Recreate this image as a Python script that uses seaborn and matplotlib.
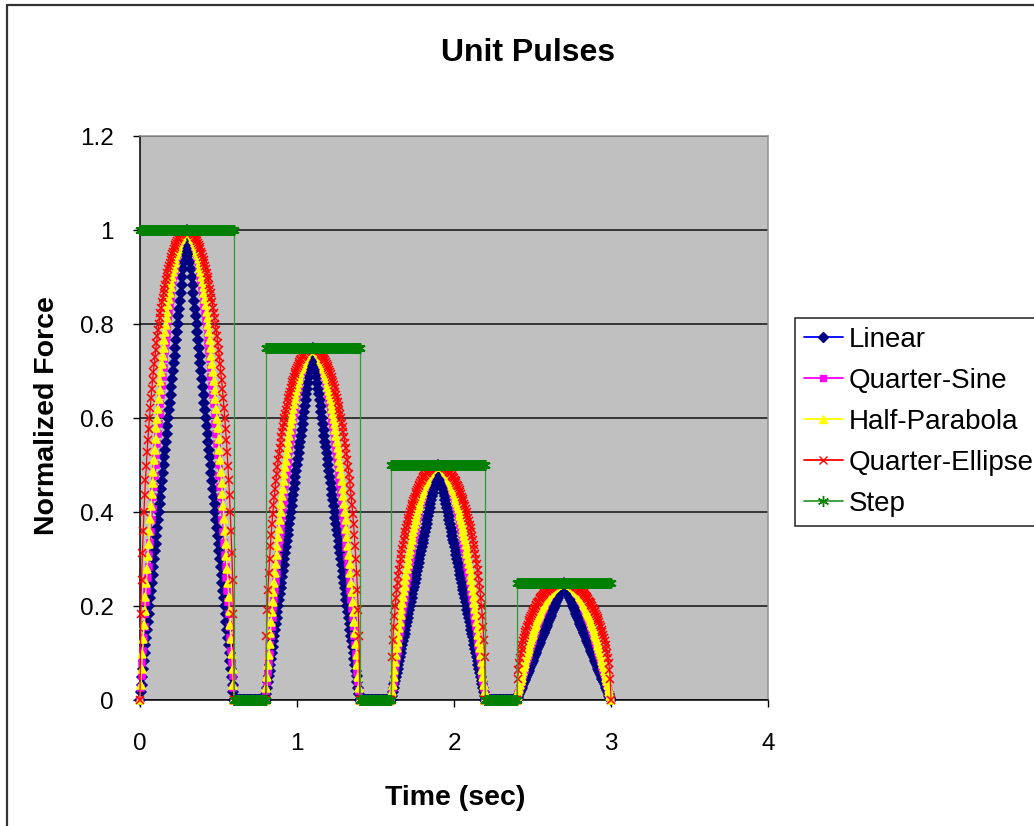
import matplotlib.pyplot as plt
from matplotlib.lines import Line2D
import numpy as np
import pandas as pd
import seaborn as sns

# pulse train: four pulses, each 0.6 s long, 0.2 s apart
pulse_starts = [0.0, 0.8, 1.6, 2.4]
pulse_peaks = [1.0, 0.75, 0.5, 0.25]
pulse_width = 0.6
pulse_gap = 0.2
sample_step = 0.005

# normalised rising half of each pulse shape (0 -> peak, 61 samples)
linear_rise = [0.000, 0.017, 0.033, 0.050, 0.067, 0.083, 0.100, 0.117, 0.133, 0.150,
               0.167, 0.183, 0.200, 0.217, 0.233, 0.250, 0.267, 0.283, 0.300, 0.317,
               0.333, 0.350, 0.367, 0.383, 0.400, 0.417, 0.433, 0.450, 0.467, 0.483,
               0.500, 0.517, 0.533, 0.550, 0.567, 0.583, 0.600, 0.617, 0.633, 0.650,
               0.667, 0.683, 0.700, 0.717, 0.733, 0.750, 0.767, 0.783, 0.800, 0.817,
               0.833, 0.850, 0.867, 0.883, 0.900, 0.917, 0.933, 0.950, 0.967, 0.983,
               1.000]
sine_rise = [0.000, 0.026, 0.052, 0.078, 0.105, 0.131, 0.156, 0.182, 0.208, 0.233,
             0.259, 0.284, 0.309, 0.334, 0.358, 0.383, 0.407, 0.431, 0.454, 0.477,
             0.500, 0.522, 0.545, 0.566, 0.588, 0.609, 0.629, 0.649, 0.669, 0.688,
             0.707, 0.725, 0.743, 0.760, 0.777, 0.793, 0.809, 0.824, 0.839, 0.853,
             0.866, 0.879, 0.891, 0.903, 0.914, 0.924, 0.934, 0.943, 0.951, 0.959,
             0.966, 0.972, 0.978, 0.983, 0.988, 0.991, 0.995, 0.997, 0.999, 1.000,
             1.000]
parabola_rise = [0.000, 0.033, 0.066, 0.098, 0.129, 0.160, 0.190, 0.220, 0.249, 0.278,
                 0.306, 0.333, 0.360, 0.386, 0.412, 0.438, 0.462, 0.486, 0.510, 0.533,
                 0.556, 0.578, 0.599, 0.620, 0.640, 0.660, 0.679, 0.698, 0.716, 0.733,
                 0.750, 0.766, 0.782, 0.798, 0.812, 0.826, 0.840, 0.853, 0.866, 0.878,
                 0.889, 0.900, 0.910, 0.920, 0.929, 0.938, 0.946, 0.953, 0.960, 0.966,
                 0.972, 0.978, 0.982, 0.986, 0.990, 0.993, 0.996, 0.998, 0.999, 1.000,
                 1.000]
ellipse_rise = [0.000, 0.182, 0.256, 0.312, 0.359, 0.400, 0.436, 0.469, 0.499, 0.527,
                0.553, 0.577, 0.600, 0.622, 0.642, 0.661, 0.680, 0.697, 0.714, 0.730,
                0.745, 0.760, 0.774, 0.787, 0.800, 0.812, 0.824, 0.835, 0.846, 0.856,
                0.866, 0.875, 0.884, 0.893, 0.901, 0.909, 0.917, 0.924, 0.930, 0.937,
                0.943, 0.949, 0.954, 0.959, 0.964, 0.968, 0.972, 0.976, 0.980, 0.983,
                0.986, 0.989, 0.991, 0.993, 0.995, 0.997, 0.998, 0.999, 0.999, 1.000,
                1.000]
step_rise = [1.0] * 61

series_names = ['Linear', 'Quarter-Sine', 'Half-Parabola', 'Quarter-Ellipse', 'Step']
series_rises = [linear_rise, sine_rise, parabola_rise, ellipse_rise, step_rise]


def build_series(rise):
    shape = np.array(rise + rise[-2::-1])
    ts, ys = [], []
    n_gap = int(round(pulse_gap / sample_step)) + 1
    for i, (t0, peak) in enumerate(zip(pulse_starts, pulse_peaks)):
        ts += list(t0 + sample_step * np.arange(len(shape)))
        ys += list(peak * shape)
        if i < len(pulse_starts) - 1:
            ts += list(t0 + pulse_width + sample_step * np.arange(n_gap))
            ys += [0.0] * n_gap
    return pd.DataFrame({'t': ts, 'force': ys})


# line colour, marker colour, marker, marker size
styles = {
    'Linear': ('#0000FF', '#000080', 'D', 4.6),
    'Quarter-Sine': ('#FF00FF', '#FF00FF', 's', 4.3),
    'Half-Parabola': ('#FFFF00', '#FFFF00', '^', 5.8),
    'Quarter-Ellipse': ('#FF0000', '#FF0000', 'x', 5.8),
    'Step': ('#339933', '#008000', (6, 2, 0), 7.5),
}

sns.set_style('white')
plt.rcParams['font.family'] = ['Liberation Sans', 'DejaVu Sans']
plt.rcParams['text.color'] = 'black'
plt.rcParams['axes.labelcolor'] = 'black'
plt.rcParams['xtick.color'] = 'black'
plt.rcParams['ytick.color'] = 'black'

fig = plt.figure(figsize=(10.34, 8.26), dpi=100)
ax = fig.add_axes([0.1354, 0.1525, 0.6074, 0.6828])
ax.set_facecolor('#C0C0C0')

for name, rise in zip(series_names, series_rises):
    df = build_series(rise)
    lc, mc, mk, ms = styles[name]
    sns.lineplot(data=df, x='t', y='force', sort=False, estimator=None, ax=ax,
                 color=lc, lw=0.9, marker=mk, markersize=ms,
                 markerfacecolor=mc, markeredgecolor=mc, markeredgewidth=1.1,
                 clip_on=False, zorder=3)

ax.set_xlim(0, 4)
ax.set_ylim(0, 1.2)
ax.set_xticks([0, 1, 2, 3, 4])
ax.set_xticklabels(['0', '1', '2', '3', '4'])
ax.set_yticks([0, 0.2, 0.4, 0.6, 0.8, 1.0, 1.2])
ax.set_yticklabels(['0', '0.2', '0.4', '0.6', '0.8', '1', '1.2'])
ax.set_xlabel('')
ax.set_ylabel('')
ax.tick_params(axis='both', direction='out', length=5, width=1, colors='black',
               labelsize=17.5, bottom=True, left=True)
ax.tick_params(axis='x', pad=19)
ax.tick_params(axis='y', pad=14)
ax.grid(True, axis='y', color='#111111', lw=1.1)
ax.grid(False, axis='x')
ax.set_axisbelow(True)
for side in ['left', 'bottom']:
    ax.spines[side].set_color('black')
    ax.spines[side].set_linewidth(1.1)
for side in ['top', 'right']:
    ax.spines[side].set_color('#909090')
    ax.spines[side].set_linewidth(1.1)

fig.text(0.511, 0.9355, 'Unit Pulses', ha='center', va='center',
         fontsize=23, fontweight='bold')
fig.text(0.0455, 0.4975, 'Normalized Force', ha='center', va='center',
         rotation=90, fontsize=20.5, fontweight='bold')
fig.text(0.44, 0.0335, 'Time (sec)', ha='center', va='center',
         fontsize=20.5, fontweight='bold')

handles = []
for name in series_names:
    lc, mc, mk, ms = styles[name]
    handles.append(Line2D([], [], color=lc, lw=1.3, marker=mk, markersize=ms + 0.5,
                          markerfacecolor=mc, markeredgecolor=mc, markeredgewidth=1.0))
leg = fig.legend(handles, series_names, loc='upper left',
                 bbox_to_anchor=(0.769, 0.615), fontsize=20, frameon=True,
                 fancybox=False, edgecolor='#222222', framealpha=1,
                 handlelength=1.4, handletextpad=0.2, labelspacing=0.54,
                 borderpad=0.32, borderaxespad=0)
leg.get_frame().set_linewidth(1.1)

# outer chart border (top and left edges visible)
fig.add_artist(Line2D([0.0068, 0.0068], [0.0, 0.9945], transform=fig.transFigure,
                      color='#333333', lw=1.6))
fig.add_artist(Line2D([0.0068, 1.0], [0.9945, 0.9945], transform=fig.transFigure,
                      color='#333333', lw=1.6))

fig.savefig('out.png', dpi=100)
